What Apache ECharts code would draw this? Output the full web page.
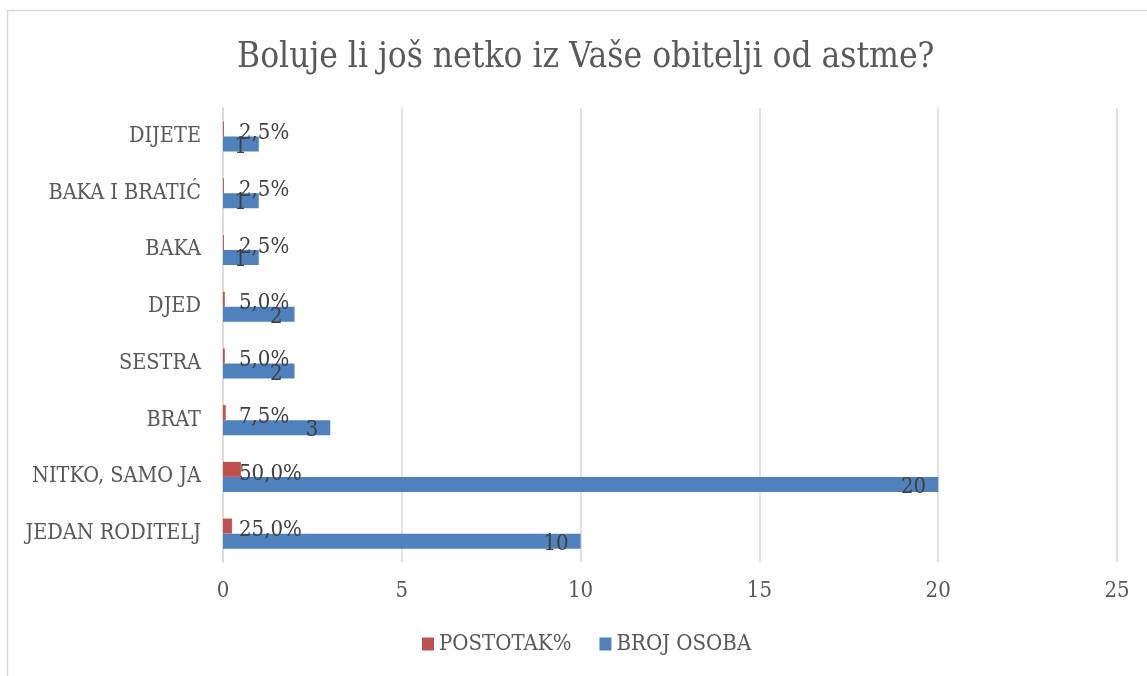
<!DOCTYPE html>
<html>
<head>
<meta charset="utf-8">
<script src="https://cdn.jsdelivr.net/npm/echarts@6/dist/echarts.min.js"></script>
<style>
  html, body { margin: 0; padding: 0; background: #fff; }
  #chart { width: 1147px; height: 676px; }
</style>
</head>
<body>
<div id="chart"></div>
<script>
// podaci, odozdo prema gore (kao u Excelu)
var categories = ['JEDAN RODITELJ', 'NITKO, SAMO JA', 'BRAT', 'SESTRA', 'DJED', 'BAKA', 'BAKA I BRATIĆ', 'DIJETE']
var postotak = [0.25, 0.5, 0.075, 0.05, 0.05, 0.025, 0.025, 0.025]
var brojOsoba = [10, 20, 3, 2, 2, 1, 1, 1]
var xTicks = [0, 5, 10, 15, 20, 25]

var font = '"DejaVu Serif Condensed", "Liberation Serif", serif'
var textColor = '#595959'

var myChart = echarts.init(document.getElementById('chart'))

myChart.setOption({
  animation: false,
  textStyle: { fontFamily: font, color: textColor },
  title: {
    text: 'Boluje li još netko iz Vaše obitelji od astme?',
    left: 232,
    top: 35,
    textStyle: { fontFamily: font, fontSize: 35, fontWeight: 'normal', color: textColor }
  },
  graphic: [{
    type: 'rect',
    shape: { x: 7.5, y: 10.5, width: 1200, height: 700 },
    style: { fill: 'none', stroke: '#d9d9d9', lineWidth: 1.5 },
    silent: true
  }],
  legend: {
    bottom: 16,
    left: 417,
    itemWidth: 12,
    itemHeight: 13,
    itemGap: 28,
    icon: 'rect',
    textStyle: { fontFamily: font, fontSize: 22, color: textColor },
    data: ['POSTOTAK%', 'BROJ OSOBA']
  },
  grid: { left: 223, right: 30, top: 108, bottom: 114 },
  xAxis: {
    type: 'value',
    min: xTicks[0],
    max: xTicks[xTicks.length - 1],
    interval: 5,
    axisLine: { show: false },
    axisTick: { show: false },
    splitLine: { lineStyle: { color: '#d9d9d9', width: 1.5 } },
    axisLabel: { fontFamily: font, fontSize: 22, color: textColor, margin: 18 }
  },
  yAxis: {
    type: 'category',
    data: categories,
    axisLine: { lineStyle: { color: '#d9d9d9', width: 1.5 } },
    axisTick: { show: false },
    axisLabel: { fontFamily: font, fontSize: 21.5, color: textColor, margin: 22 }
  },
  series: [
    {
      name: 'POSTOTAK%',
      type: 'bar',
      data: postotak,
      barWidth: 15,
      barGap: '0%',
      itemStyle: { color: '#C0504D' },
      label: {
        show: true,
        position: [16, 12],
        align: 'left',
        verticalAlign: 'middle',
        fontFamily: font,
        fontSize: 22,
        color: '#404040',
        formatter: function (p) {
          return (p.value * 100).toFixed(1).replace('.', ',') + '%'
        }
      }
    },
    {
      name: 'BROJ OSOBA',
      type: 'bar',
      data: brojOsoba,
      barWidth: 15,
      itemStyle: { color: '#4F81BD' },
      label: {
        show: true,
        position: 'insideRight',
        distance: 12,
        offset: [0, 3],
        fontFamily: font,
        fontSize: 22,
        color: '#404040'
      }
    }
  ]
})
</script>
</body>
</html>
